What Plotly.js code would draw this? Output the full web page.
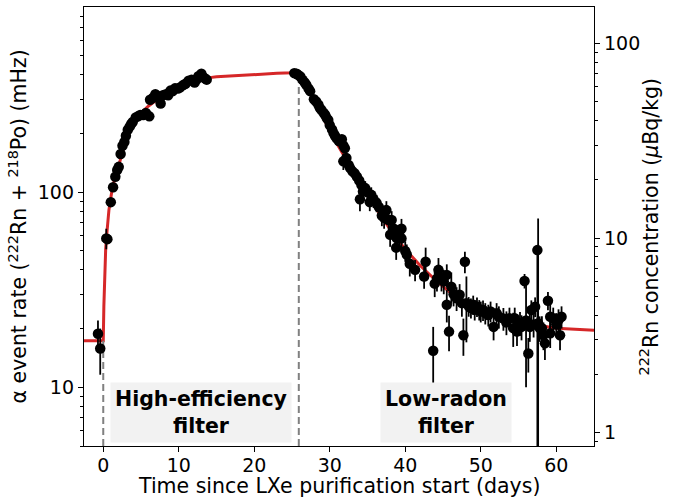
<!DOCTYPE html>
<html>
<head>
<meta charset="utf-8">
<script src="https://cdn.plot.ly/plotly-3.0.1.min.js"></script>
<style>html,body{margin:0;padding:0;background:#fff;}#plot{width:679px;height:500px;}</style>
</head>
<body>
<div id="plot"></div>
<script>
// Measured alpha event rate (mHz)
const days = [-0.70,-0.40,0.40,0.55,1.0,1.3,1.6,1.85,2.05,2.3,2.55,2.8,3.0,3.25,3.5,3.7,3.9,4.3,4.6,4.9,5.3,5.65,6.1,6.2,6.6,6.9,7.2,7.6,7.9,8.3,8.6,8.9,9.2,9.5,9.9,10.2,10.6,10.9,11.3,11.7,12.1,12.4,12.6,13.0,13.2,13.5,13.7,
 25.3,25.6,25.8,26.1,26.4,26.7,26.9,27.2,27.4,27.9,28.2,28.5,28.7,28.9,29.2,29.4,29.6,29.8,30.0,30.3,30.5,30.7,30.9,31.2,31.6,31.8,32.0,31.8,32.2,32.5,32.7,33.0,33.3,33.6,33.9,34.0,34.2,34.4,34.7,35.0,35.3,35.5,35.8,36.2,36.5,36.9,37.2,37.5,37.8,38.2,38.0,38.5,38.8,38.9,39.2,39.5,39.5,40.0,40.2,40.6,41.3,42.5,42.7,43.7,43.9,44.2,44.4,44.8,45.1,45.5,45.5,45.8,46.1,46.4,46.8,47.2,47.5,47.7,47.9,48.1,48.4,48.7,49.0,49.2,49.5,49.8,50.0,50.3,50.6,51.0,51.3,51.7,52.1,52.4,53.0,53.4,53.8,54.3,54.5,54.8,55.2,55.4,55.8,56.0,56.3,56.5,56.7,57.0,57.2,57.5,57.6,57.8,58.1,58.3,58.5,58.9,59.2,59.2,59.6,60.0,60.3,60.5,60.7];
const rate = [18.8,15.8,58,57.5,89,106,120,130,135,157,173,181,195,209,217,224,229,242,245,249,249,255,245,298,305,318,312,285,314,318,314,332,330,341,340,345,355,360,373,377,365,380,393,405,390,383,378,
 408,405,400,392,377,365,355,340,330,300,292,281,270,264,255,249,240,235,221,210,201,195,189,183,187,174,168,144,150,138,133,128,125,120,115,92,109,101,105,100,89,97,92,88,84,76,74,81,72,72,60.5,65,52,58,60.5,65,58,50,48,43,40,37,44,15.4,34,36,40,36,35,37.7,26.5,19.3,32.8,30,28.6,29.8,27,18.5,44,27,26,25.5,26.5,25,25.9,25,24.5,24.9,24,23.5,24.5,20.4,24.0,23,22.5,21.5,22.6,20.1,22.6,19.3,21.3,20.4,35.1,22,14.9,20.4,24.9,21,25.9,50.5,21.3,20.1,20.1,18.5,16.8,27.8,23,18.9,22.6,21,22.1,18.5,23];
const errPlus = [3.2,4.2,7,3,3,3,3,3,3,4,4,4,4,4,5,5,5,5,5,5,5,5,5,6,6,6,6,6,6,6,6,6,6,6,6,6,6,6,6,6,6,6,6,6,6,6,6,
 8,8,8,8,8,8,8,8,8,8,8,8,8,8,8,8,8,8,8,8,8,8,8,8,8,8,10,14,9,9,9,9,9,9,9,12,9,9,9,9,9,9,9,9,9,9,9,9,9,8,8,8,7,8,7,8,7,6,6,6,5,5,8,5,5,5,6,5,5,5,5,4,6,4,4,4,4,4,5.6,10,3,3,3,3,3,3,3,3,3,3,3,3,3,3,3,3,3,4,3,3,3,3,3,12,3,3.3,3,3,3,3,52,3,3,3,3,3,3.5,3,3,3,3,3,3,3];
const errMinus = errPlus.map((e, i) => (days[i] === 57.5 ? 49.5 : e));

// Fitted model curve (mHz)
const modelDays = [-2.55,0,0.08,0.15,0.32,0.5,0.75,1.1,1.5,2.0,2.5,3.0,3.5,4.0,4.5,5.0,6.0,7.0,8.0,9.0,10.0,11.0,12.0,13.0,14.1,15.0,17.2,20.0,21.6,23.0,25.1,25.9,26.5,27,28,29,30,31,32,33,34,35,36,37,38,40,42,44,46,48,50,52,55,60,65];
const modelRate = [17.3,17.3,26,33,51,63,81,99,117,135,160,185,208,228,243,255,277,297,316,332,345,357,368,377,387,391,396,402,404,407,410,412,372,342,289,245,207,176,151,129,111,96,84,73,64.5,51,42,35.5,30.5,27.2,24.8,23.2,21.6,20.1,19.6];

// Filter switch markers (days) and the model level at which each dashed line ends
const switchDays = [0, 25.9];
const switchLevel = [17.3, 412];

const filterLabels = ['<b>High-efficiency</b><br><b>filter</b>', '<b>Low-radon</b><br><b>filter</b>'];
const filterLabelDays = [12.9, 45.4];
const filterLabelRate = [7.4, 7.4];

const rightTicks = [1, 10, 100];
const leftTicks = [10, 100];
const xTicks = [0, 10, 20, 30, 40, 50, 60];

const yMin = 5, yMax = 891;
const y2Min = 0.855, y2Max = 153.5;
const L = Math.log10;

const traces = [];
traces.push({x: modelDays, y: modelRate, mode: 'lines', line: {color: '#d62728', width: 3}, hoverinfo: 'skip', showlegend: false});
switchDays.forEach((d, i) => {
  traces.push({x: [d, d], y: [yMin, switchLevel[i]], mode: 'lines', line: {color: '#808080', width: 2, dash: '7px,4px'}, showlegend: false, hoverinfo: 'skip'});
});
traces.push({x: days, y: rate, mode: 'markers', type: 'scatter', marker: {color: 'black', size: 10.5},
  error_y: {type: 'data', symmetric: false, array: errPlus, arrayminus: errMinus, color: 'black', thickness: 1.8, width: 0},
  showlegend: false});
// invisible trace to activate right axis
traces.push({x: [0], y: [10], yaxis: 'y2', mode: 'markers', marker: {opacity: 0}, showlegend: false, hoverinfo: 'skip'});

const tickFont = {family: 'DejaVu Sans', size: 19, color: 'black'};
const titleFont = {family: 'DejaVu Sans', size: 20.5, color: 'black'};

const layout = {
  width: 679, height: 500,
  margin: {l: 84, r: 85, t: 7, b: 54},
  paper_bgcolor: 'white', plot_bgcolor: 'white',
  font: tickFont,
  showlegend: false,
  xaxis: {
    range: [-2.55, 65], tickvals: xTicks, ticks: 'outside', ticklen: 5, tickwidth: 1, tickcolor: 'black',
    ticklabelstandoff: -3,
    showline: true, linecolor: 'black', linewidth: 1.2, mirror: true, showgrid: false, zeroline: false,
    tickfont: tickFont
  },
  yaxis: {
    type: 'log', range: [L(yMin), L(yMax)], tickvals: leftTicks, ticktext: leftTicks.map(String),
    ticks: 'outside', ticklen: 5, tickwidth: 1, tickcolor: 'black',
    minor: {ticks: 'outside', ticklen: 3, tickwidth: 1, tickcolor: 'black', dtick: 'D1', showgrid: false},
    showline: true, linecolor: 'black', linewidth: 1.2, showgrid: false, zeroline: false,
    tickfont: tickFont
  },
  yaxis2: {
    type: 'log', overlaying: 'y', side: 'right', range: [L(y2Min), L(y2Max)], tickvals: rightTicks, ticktext: rightTicks.map(String),
    ticks: 'outside', ticklen: 5, tickwidth: 1, tickcolor: 'black',
    minor: {ticks: 'outside', ticklen: 3, tickwidth: 1, tickcolor: 'black', dtick: 'D1', showgrid: false},
    showline: true, linecolor: 'black', linewidth: 1.2, showgrid: false, zeroline: false,
    tickfont: tickFont
  },
  annotations: filterLabels.map((t, i) => ({
    x: filterLabelDays[i], y: L(filterLabelRate[i]), xref: 'x', yref: 'y', text: t, showarrow: false,
    font: {family: 'DejaVu Sans', size: 20.5, color: 'black'}, bgcolor: '#f2f2f2', borderpad: 4, align: 'center'
  })).concat([
    {text: 'Time since LXe purification start (days)', xref: 'paper', yref: 'paper', x: 0.5, y: -0.0916, xanchor: 'center', yanchor: 'middle', showarrow: false, font: titleFont},
    {text: 'α event rate (<sup>222</sup>Rn + <sup>218</sup>Po) (mHz)', xref: 'paper', yref: 'paper', x: -0.1294, y: 0.5, xanchor: 'center', yanchor: 'middle', textangle: -90, showarrow: false, font: titleFont},
    {text: '<sup>222</sup>Rn concentration (<i>µ</i>Bq/kg)', xref: 'paper', yref: 'paper', x: 1.1098, y: 0.5, xanchor: 'center', yanchor: 'middle', textangle: -90, showarrow: false, font: titleFont}
  ])
};

Plotly.newPlot('plot', traces, layout, {displayModeBar: false, staticPlot: true});
</script>
</body>
</html>
